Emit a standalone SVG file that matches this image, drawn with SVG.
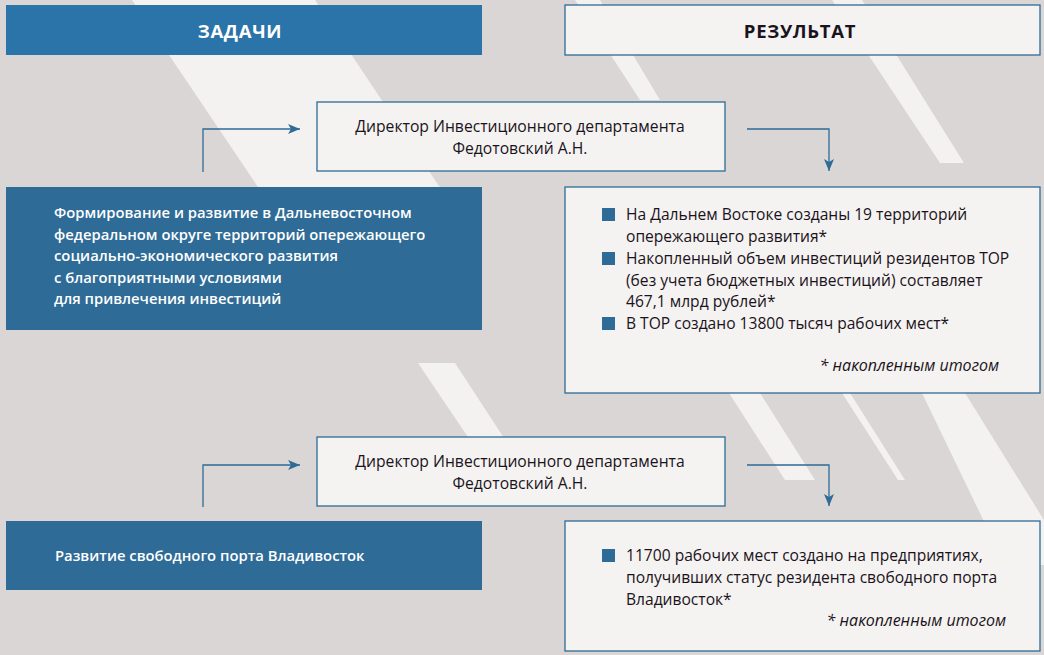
<svg xmlns="http://www.w3.org/2000/svg" width="1044" height="655" viewBox="0 0 1044 655">
<defs>
<style>
.bg{fill:#dad6d5}
.stripe{fill:#f3f2f0}
.head{fill:#2a74a9}
.task{fill:#2e6b96}
.box{fill:#f4f3f1;stroke:#2e6b96;stroke-width:1.3}
.conn{fill:none;stroke:#2e6b96;stroke-width:1.3}
.t{font-family:"Open Sans","Noto Sans","Liberation Sans",sans-serif}
.hw{font-size:18.5px;font-weight:700;fill:#ffffff;letter-spacing:0.7px}
.hd{font-size:18.5px;font-weight:700;fill:#1b1220;letter-spacing:0.7px}
.dir{font-size:15.7px;fill:#1b1220}
.tw{font-size:14.8px;font-weight:600;fill:#ffffff}
.rt{font-size:15.6px;fill:#1b1220}
.note{font-size:16px;font-style:italic;fill:#1b1220}
.bul{fill:#2e6b96}
</style>
<marker id="arr" viewBox="0 0 12 10" refX="12" refY="5" markerWidth="12" markerHeight="10" markerUnits="userSpaceOnUse" orient="auto">
<path d="M0,0 L12,5 L0,10 L3,5 Z" fill="#2e6b96"/>
</marker>
</defs>
<rect class="bg" x="0" y="0" width="1044" height="655"/>
<g id="background-stripes">
<polygon class="stripe" points="132,0 315,0 455,210 470,330 390,330 258,187"/>
<polygon class="stripe" points="575,0 600,0 660,100 640,100"/>
<polygon class="stripe" points="832,0 862,0 964,163 940,163"/>
<polygon class="stripe" points="418,363 455,363 515,455 480,455"/>
<polygon class="stripe" points="729,393 760,393 815,480 785,480"/>
<polygon class="stripe" points="842,393 850,393 905,480 898,480"/>
<polygon class="stripe" points="922,393 965,393 1044,520 1044,565 1005,565"/>
</g>
<g id="header-tasks">
<rect class="head" x="6" y="5" width="476" height="50"/>
<text class="t hw" x="240" y="38" text-anchor="middle">ЗАДАЧИ</text>
</g>
<g id="header-result">
<rect class="box" x="565" y="5" width="475" height="50"/>
<text class="t hd" x="800" y="38" text-anchor="middle">РЕЗУЛЬТАТ</text>
</g>
<g id="director-1">
<rect class="box" x="317" y="102" width="408" height="69"/>
<text class="t dir" x="520" y="132" text-anchor="middle">Директор Инвестиционного департамента</text>
<text class="t dir" x="520" y="154" text-anchor="middle">Федотовский А.Н.</text>
</g>
<g id="task-1">
<rect class="task" x="6" y="187" width="476" height="143"/>
<text class="t tw" x="54" y="218">Формирование и развитие в Дальневосточном</text>
<text class="t tw" x="54" y="240">федеральном округе территорий опережающего</text>
<text class="t tw" x="54" y="261">социально-экономического развития</text>
<text class="t tw" x="54" y="283">с благоприятными условиями</text>
<text class="t tw" x="54" y="304">для привлечения инвестиций</text>
</g>
<g id="result-1">
<rect class="box" x="565" y="187" width="475" height="206"/>
<rect class="bul" x="602" y="208" width="13" height="13"/>
<rect class="bul" x="602" y="252" width="13" height="13"/>
<rect class="bul" x="602" y="317" width="13" height="13"/>
<text class="t rt" x="626" y="220">На Дальнем Востоке созданы 19 территорий</text>
<text class="t rt" x="626" y="242">опережающего развития*</text>
<text class="t rt" x="626" y="264">Накопленный объем инвестиций резидентов ТОР</text>
<text class="t rt" x="626" y="286">(без учета бюджетных инвестиций) составляет</text>
<text class="t rt" x="626" y="307">467,1 млрд рублей*</text>
<text class="t rt" x="626" y="329">В ТОР создано 13800 тысяч рабочих мест*</text>
<text class="t note" x="999" y="371" text-anchor="end">* накопленным итогом</text>
</g>
<g id="director-2">
<rect class="box" x="317" y="437" width="408" height="69"/>
<text class="t dir" x="520" y="467" text-anchor="middle">Директор Инвестиционного департамента</text>
<text class="t dir" x="520" y="489" text-anchor="middle">Федотовский А.Н.</text>
</g>
<g id="task-2">
<rect class="task" x="6" y="521" width="476" height="69"/>
<text class="t tw" x="55" y="561">Развитие свободного порта Владивосток</text>
</g>
<g id="result-2">
<rect class="box" x="565" y="521" width="475" height="130"/>
<rect class="bul" x="602" y="549" width="13" height="13"/>
<text class="t rt" x="626" y="561">11700 рабочих мест создано на предприятиях,</text>
<text class="t rt" x="626" y="583">получивших статус резидента свободного порта</text>
<text class="t rt" x="626" y="605">Владивосток*</text>
<text class="t note" x="1006" y="626" text-anchor="end">* накопленным итогом</text>
</g>
<g id="connectors">
<path class="conn" d="M203,172 V129 H300" marker-end="url(#arr)"/>
<path class="conn" d="M747,129 H829 V171" marker-end="url(#arr)"/>
<path class="conn" d="M203,507 V465 H300" marker-end="url(#arr)"/>
<path class="conn" d="M747,465 H829 V506" marker-end="url(#arr)"/>
</g>
</svg>
